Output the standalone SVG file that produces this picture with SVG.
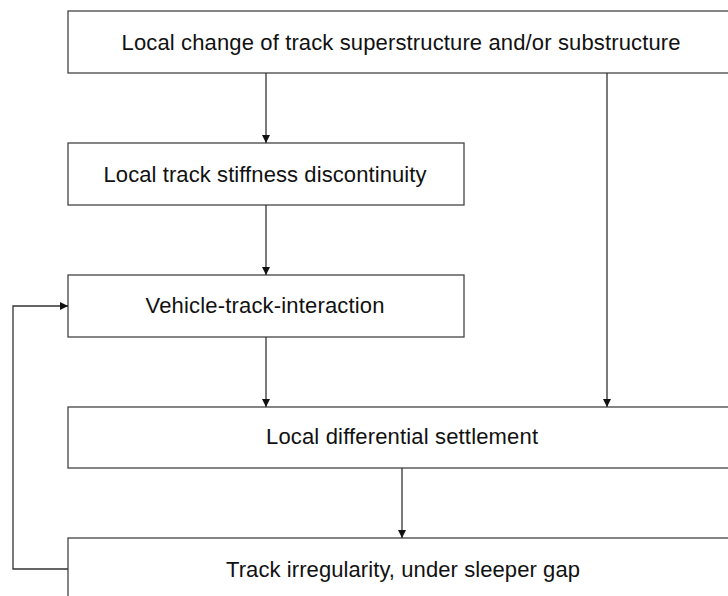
<svg xmlns="http://www.w3.org/2000/svg" width="728" height="596" viewBox="0 0 728 596">
<style>
.box{fill:#ffffff;stroke:#444444;stroke-width:1.3}
.lbl{font-family:"Liberation Sans",Arial,sans-serif;font-size:22px;fill:#111111;text-anchor:middle}
.con{fill:none;stroke:#333333;stroke-width:1.3}
</style>
<defs>
<marker id="arr" viewBox="0 0 10 10" refX="10" refY="5" markerWidth="8" markerHeight="8" markerUnits="userSpaceOnUse" orient="auto">
<path d="M0,0 L10,5 L0,10 Z" fill="#111111"/>
</marker>
</defs>
<rect width="728" height="596" fill="#ffffff"/>
<g id="n1">
<rect class="box" x="68" y="11" width="680" height="62"/>
<text class="lbl" x="401" y="50" textLength="559">Local change of track superstructure and/or substructure</text>
</g>
<g id="n2">
<rect class="box" x="68" y="143" width="396" height="62"/>
<text class="lbl" x="265" y="182" textLength="323">Local track stiffness discontinuity</text>
</g>
<g id="n3">
<rect class="box" x="68" y="275" width="396" height="62"/>
<text class="lbl" x="265" y="313" textLength="239">Vehicle-track-interaction</text>
</g>
<g id="n4">
<rect class="box" x="68" y="407" width="680" height="61"/>
<text class="lbl" x="402" y="444" textLength="272">Local differential settlement</text>
</g>
<g id="n5">
<rect class="box" x="68" y="538" width="680" height="80"/>
<text class="lbl" x="403" y="577" textLength="354">Track irregularity, under sleeper gap</text>
</g>
<g id="connectors">
<line class="con" x1="266" y1="73" x2="266" y2="143" marker-end="url(#arr)"/>
<line class="con" x1="266" y1="205" x2="266" y2="275" marker-end="url(#arr)"/>
<line class="con" x1="266" y1="337" x2="266" y2="407" marker-end="url(#arr)"/>
<line class="con" x1="607" y1="73" x2="607" y2="407" marker-end="url(#arr)"/>
<line class="con" x1="402" y1="468" x2="402" y2="538" marker-end="url(#arr)"/>
<polyline class="con" points="68,569 13,569 13,306 68,306" marker-end="url(#arr)"/>
</g>
</svg>
